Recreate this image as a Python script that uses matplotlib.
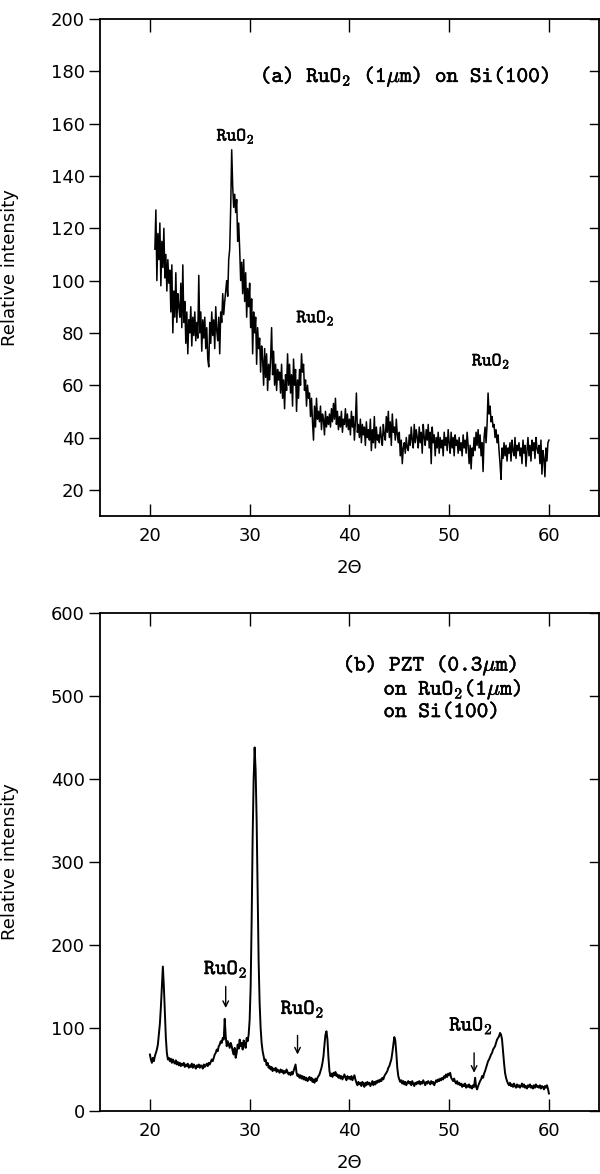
import numpy as np
import matplotlib
matplotlib.use("Agg")
import matplotlib.pyplot as plt
import matplotlib.patheffects as pe

plt.rcParams['font.family'] = ['DejaVu Sans']
plt.rcParams['mathtext.fontset'] = 'cm'

# ---- data ----
# (a) RuO2 (1um) on Si(100): 2theta 20.5 .. 60.0, step 0.1
y_a = [112, 127, 100, 118, 108,
       122, 98, 115, 105, 120, 101, 110, 96, 108, 99,
       104, 88, 106, 80, 96, 86, 103, 84, 95, 90,
       86, 99, 82, 106, 84, 92, 76, 88, 72, 85,
       80, 90, 75, 86, 79, 88, 77, 84, 78, 102,
       80, 88, 73, 85, 78, 86, 74, 82, 70, 67,
       84, 76, 88, 79, 85, 74, 90, 81, 77, 86,
       72, 88, 84, 95, 87, 92, 96, 100, 94, 108,
       112, 128, 150, 136, 128, 133, 126, 131, 115, 122,
       112, 100, 107, 95, 108, 92, 103, 86, 97, 90,
       99, 82, 93, 72, 88, 80, 86, 68, 82, 74,
       78, 65, 75, 70, 60, 74, 63, 72, 58, 68,
       62, 70, 82, 64, 73, 60, 68, 58, 66, 62,
       65, 57, 68, 55, 62, 51, 64, 58, 72, 60,
       68, 57, 64, 52, 70, 60, 66, 50, 62, 55,
       66, 60, 72, 65, 68, 58, 62, 52, 60, 55,
       57, 48, 55, 46, 39, 52, 44, 55, 47, 50,
       46, 52, 43, 49, 47, 41, 50, 44, 48, 45,
       49, 44, 51, 46, 53, 47, 55, 45, 50, 43,
       48, 44, 50, 42, 47, 45, 51, 44, 49, 43,
       47, 41, 50, 44, 48, 39, 46, 57, 42, 45,
       40, 47, 38, 45, 41, 44, 37, 46, 40, 43,
       39, 47, 35, 43, 38, 48, 36, 44, 39, 41,
       38, 44, 40, 37, 45, 41, 39, 48, 42, 50,
       40, 46, 37, 49, 42, 44, 39, 47, 41, 38,
       42, 33, 39, 30, 36, 38, 34, 40, 36, 35,
       41, 37, 44, 39, 36, 45, 38, 43, 40, 36,
       44, 38, 42, 34, 45, 40, 37, 43, 39, 45,
       36, 42, 30, 44, 38, 41, 33, 40, 36, 42,
       34, 40, 36, 39, 33, 42, 37, 40, 35, 43,
       38, 34, 42, 36, 40, 33, 41, 37, 39, 34,
       40, 35, 38, 33, 41, 36, 39, 34, 42, 37,
       30, 37, 28, 36, 33, 40, 35, 42, 37, 43,
       36, 41, 33, 38, 27, 40, 44, 38, 45, 57,
       49, 52, 46, 48, 44, 45, 40, 43, 38, 41,
       35, 30, 24, 36, 32, 38, 33, 37, 31, 36,
       34, 38, 31, 39, 35, 33, 40, 32, 37, 35,
       38, 33, 36, 30, 39, 34, 37, 29, 35, 40,
       33, 37, 31, 39, 35, 38, 32, 40, 36, 34,
       37, 30, 39, 26, 35, 32, 25, 36, 31, 38,
       39]
x_a = np.linspace(20.5, 60.0, len(y_a))

# (b) PZT (0.3um) on RuO2(1um) on Si(100): 2theta 20.0 .. 60.0, step 0.1
y_b = [68, 62, 58, 64, 60, 66, 70, 74, 80, 92,
       105, 125, 150, 174, 150, 118, 88, 70, 62, 64,
       60, 63, 58, 62, 59, 57, 61, 56, 59, 55,
       58, 54, 57, 55, 58, 53, 56, 54, 57, 52,
       55, 53, 57, 52, 56, 54, 51, 55, 53, 56,
       52, 55, 54, 51, 56, 53, 55, 57, 54, 58,
       56, 59, 62, 60, 64, 68, 70, 74, 72, 78,
       80, 84, 82, 88, 86, 111, 90, 78, 84, 80,
       76, 82, 78, 72, 68, 76, 64, 70, 80, 75,
       86, 78, 82, 74, 85, 80, 76, 88, 84, 92,
       110, 150, 230, 330, 400, 438, 410, 350, 260, 180,
       130, 100, 82, 72, 66, 60, 62, 55, 58, 52,
       54, 50, 53, 48, 51, 49, 52, 47, 50, 48,
       46, 50, 47, 49, 45, 48, 46, 50, 47, 44,
       46, 43, 47, 44, 48, 52, 56, 46, 42, 44,
       40, 43, 39, 42, 38, 41, 37, 40, 36, 38,
       41, 37, 40, 35, 38, 34, 39, 36, 40, 42,
       44, 48, 52, 58, 66, 80, 92, 96, 86, 64,
       48, 42, 45, 41, 46, 43, 47, 42, 44, 40,
       43, 39, 42, 38, 41, 44, 40, 37, 42, 39,
       41, 38, 42, 37, 40, 43, 38, 34, 31, 35,
       32, 34, 30, 35, 33, 29, 34, 31, 35, 32,
       34, 30, 33, 36, 31, 35, 32, 36, 34, 37,
       35, 38, 36, 40, 38, 42, 44, 46, 48, 52,
       54, 58, 62, 70, 80, 89, 85, 70, 52, 42,
       38, 35, 37, 33, 36, 32, 35, 31, 34, 36,
       33, 35, 31, 36, 33, 30, 34, 32, 35, 33,
       36, 32, 35, 33, 37, 34, 31, 35, 33, 36,
       34, 32, 36, 33, 35, 31, 34, 37, 35, 38,
       36, 39, 37, 40, 38, 42, 40, 44, 41, 45,
       43, 46, 40, 38, 36, 39, 35, 33, 36, 32,
       34, 31, 33, 29, 32, 30, 33, 28, 31, 29,
       32, 28, 30, 27, 31, 29, 40, 29, 26, 30,
       33, 36, 38, 42, 40, 45, 48, 52, 56, 60,
       62, 65, 68, 70, 74, 76, 78, 82, 86, 88,
       90, 94, 92, 86, 72, 58, 46, 40, 36, 33,
       31, 34, 30, 32, 29, 33, 30, 28, 32, 29,
       31, 28, 30, 33, 29, 32, 28, 30, 27, 31,
       29, 32, 28, 30, 27, 31, 28, 32, 29, 30,
       28, 31, 27, 30, 29, 26, 30, 28, 31, 27,
       21]
x_b = np.linspace(20.0, 60.0, len(y_b))

# peak labels (x, y) in data units
peaks_a = [(28.6, 155), (36.6, 85.5), (54.2, 69)]
labels_b = [(27.6, 171), (35.3, 123), (52.2, 103)]
arrows_b = [(27.6, 150, 124), (34.8, 91, 68), (52.5, 70, 46)]

RU = r'RuO$_\mathtt{2}$'
TT = ['cmtt10', 'DejaVu Serif']
THICK = [pe.withStroke(linewidth=0.35, foreground='k')]


def style(ax, ylim, yticks):
    ax.set_xlim(15, 65)
    ax.set_ylim(*ylim)
    ax.set_xticks([20, 30, 40, 50, 60])
    ax.set_yticks(yticks)
    ax.tick_params(axis='x', direction='in', top=True, length=9, width=1,
                   labelsize=13, pad=8)
    ax.tick_params(axis='y', which='both', left=True, right=False,
                   direction='out', length=8, width=1, labelsize=13, pad=3)
    for t in yticks:
        ax.plot([64.1, 65], [t, t], color='k', lw=1, clip_on=False)
    for s in ax.spines.values():
        s.set_linewidth(1.3)
    ax.set_xlabel('2Θ', fontsize=13, labelpad=10)
    ax.set_ylabel('Relative intensity', fontsize=13)
    ax.yaxis.set_label_coords(-0.162, 0.5)


fig = plt.figure(figsize=(6.0, 11.74), dpi=100)

ax1 = fig.add_axes([0.1667, 0.5605, 0.8313, 0.4233])
ax1.plot(x_a, y_a, color='k', lw=1.1)
style(ax1, (10, 200), list(range(20, 201, 20)))
ax1.text(31.0, 178, r'(a) ' + RU + r' (1$\mu$m) on Si(100)', fontsize=16,
         family=TT, va='center', ha='left', path_effects=THICK)
for px, py in peaks_a:
    ax1.text(px, py, RU, fontsize=13.5, family=TT, ha='center', va='center',
             path_effects=THICK)

ax2 = fig.add_axes([0.1667, 0.0537, 0.8313, 0.4242])
ax2.plot(x_b, y_b, color='k', lw=1.4)
style(ax2, (0, 600), list(range(0, 601, 100)))
ax2.text(39.3, 537, '(b) PZT (0.3' + r'$\mu$' + 'm)', fontsize=16,
         family=TT, va='center', ha='left', path_effects=THICK)
ax2.text(43.4, 508, 'on ' + RU + r'(1$\mu$m)', fontsize=16,
         family=TT, va='center', ha='left', path_effects=THICK)
ax2.text(43.4, 480, 'on Si(100)', fontsize=16,
         family=TT, va='center', ha='left', path_effects=THICK)
for px, py in labels_b:
    ax2.text(px, py, RU, fontsize=15.5, family=TT, ha='center', va='center',
             path_effects=THICK)
for ax_, y0, y1 in arrows_b:
    ax2.annotate('', xy=(ax_, y1), xytext=(ax_, y0),
                 arrowprops=dict(arrowstyle='->', color='k', lw=1,
                                 shrinkA=0, shrinkB=0))

fig.savefig('out.png', dpi=100)
